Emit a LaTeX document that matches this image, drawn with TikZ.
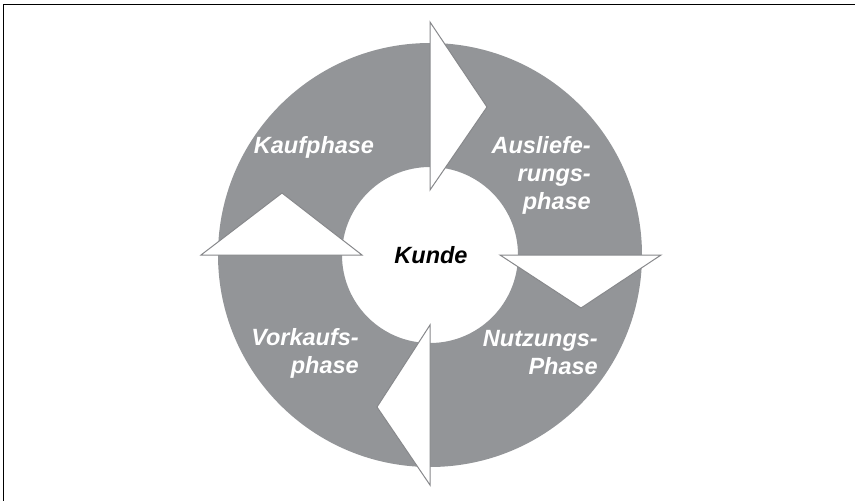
\documentclass[tikz,border=0pt]{standalone}
\usepackage{fontspec}
\setmainfont{Liberation Sans}
\usepackage{tikz}
\usetikzlibrary{positioning}
\definecolor{ringgray}{RGB}{147,149,152}
\definecolor{edgegray}{RGB}{135,136,139}

\begin{document}
\begin{tikzpicture}[x=1pt, y=-1pt,
  ring/.style={fill=ringgray, even odd rule},
  turn/.style={draw=edgegray, fill=white, line width=1pt, line join=miter},
  phase/.style={font=\fontsize{23.5}{28}\selectfont\bfseries\itshape, text=white, inner sep=0pt, align=right},
  hub/.style={font=\fontsize{23.5}{28}\selectfont\bfseries\itshape, text=black, inner sep=0pt},
  frame/.style={draw=black, line width=1.4pt}
]
  \useasboundingbox (0,0) rectangle (855,501);
  \draw[frame] (3.5,501) -- (3.5,4.5) -- (855,4.5);

  % ring round the customer
  \coordinate (mid) at (430,255);
  \fill[ring] (mid) circle[radius=212] (mid) circle[radius=88];

  % four turning arrows
  \draw[turn] (430,22) -- (430,190) -- (487,107) -- cycle;
  \draw[turn] (500,255) -- (661,255) -- (581,308) -- cycle;
  \draw[turn] (430,325) -- (430,485) -- (377,407) -- cycle;
  \draw[turn] (201,255) -- (362,255) -- (282,193) -- cycle;

  \node[hub, anchor=base] (kunde) at (431,263) {Kunde};
  \node[phase, anchor=base] (kauf) at (314,153) {Kaufphase};
  \node[phase, anchor=east] (auslief) at (591,175) {Ausliefe-\\rungs-\\phase};
  \node[phase, anchor=east] (nutzung) at (598,353) {Nutzungs-\\Phase};
  \node[phase, anchor=east] (vorkauf) at (359,353) {Vorkaufs-\\phase};
\end{tikzpicture}
\end{document}
